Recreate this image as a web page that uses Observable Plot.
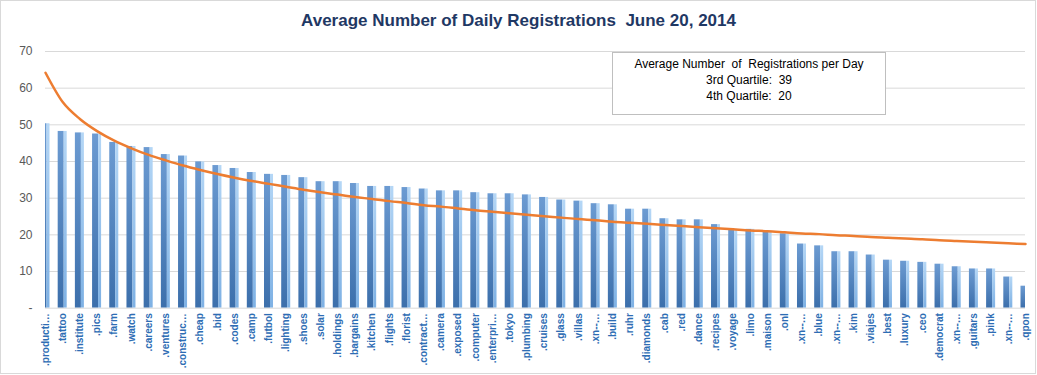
<!DOCTYPE html>
<html>
<head>
<meta charset="utf-8">
<script src="https://cdn.jsdelivr.net/npm/d3@7"></script>
<script src="https://cdn.jsdelivr.net/npm/@observablehq/plot@0.6"></script>
<style>
  html, body { margin: 0; padding: 0; background: #fff; }
  #wrap { position: relative; width: 1037px; height: 375px; overflow: hidden; background: #fff; }
  #border { position: absolute; left: 0; top: 0; width: 1036px; height: 374px; box-sizing: border-box; border: 1px solid #D9D9D9; pointer-events: none; }
  #title { position: absolute; left: 0; top: 9px; width: 1037px; text-align: center; font-family: "Liberation Sans", sans-serif; font-weight: bold; font-size: 17px; color: #1F3864; white-space: pre; line-height: 24px; }
  #chart { position: absolute; left: 0; top: 40px; }
  #note { position: absolute; left: 612px; top: 52px; width: 274px; height: 63px; box-sizing: border-box; border: 1px solid #BFBFBF; background: #fff; text-align: center; font-family: "Liberation Sans", sans-serif; font-size: 12px; color: #000; line-height: 15.8px; padding-top: 4px; white-space: pre; }
</style>
</head>
<body>
<div id="wrap">
  <div id="title">Average Number of Daily Registrations  June 20, 2014</div>
  <div id="chart"></div>
  <div id="note"></div>
  <div id="border"></div>
</div>
<script>
const labels = [".producti…", ".tattoo", ".institute", ".pics", ".farm", ".watch", ".careers", ".ventures", ".construc…", ".cheap",
  ".bid", ".codes", ".camp", ".futbol", ".lighting", ".shoes", ".solar", ".holdings", ".bargains", ".kitchen",
  ".flights", ".florist", ".contract…", ".camera", ".exposed", ".computer", ".enterpri…", ".tokyo", ".plumbing", ".cruises",
  ".glass", ".villas", ".xn--…", ".build", ".ruhr", ".diamonds", ".cab", ".red", ".dance", ".recipes",
  ".voyage", ".limo", ".maison", ".onl", ".xn--…", ".blue", ".xn--…", ".kim", ".viajes", ".best",
  ".luxury", ".ceo", ".democrat", ".xn--…", ".guitars", ".pink", ".xn--…", ".qpon"];

const registrations = [50.3, 48.2, 47.8, 47.5, 45.2, 44.1, 43.8, 41.9, 41.5, 39.9,
  38.9, 38.1, 37.0, 36.5, 36.2, 35.6, 34.5, 34.5, 34.0, 33.2,
  33.2, 32.9, 32.5, 32.0, 32.0, 31.5, 31.2, 31.2, 30.9, 30.2,
  29.5, 29.2, 28.5, 28.2, 27.0, 27.0, 24.4, 24.1, 24.1, 22.8,
  21.5, 21.5, 21.0, 20.3, 17.5, 17.0, 15.4, 15.4, 14.5, 13.1,
  12.8, 12.5, 12.0, 11.3, 10.7, 10.7, 8.5, 6.0];

const trend = [64.2, 56.2, 51.6, 48.3, 45.7, 43.6, 41.8, 40.3, 38.9, 37.7,
  36.6, 35.6, 34.7, 33.9, 33.1, 32.3, 31.6, 31.0, 30.3, 29.8,
  29.2, 28.7, 28.1, 27.7, 27.2, 26.7, 26.3, 25.9, 25.5, 25.1,
  24.7, 24.3, 24.0, 23.6, 23.3, 23.0, 22.7, 22.4, 22.1, 21.8,
  21.5, 21.2, 21.0, 20.7, 20.4, 20.2, 19.9, 19.7, 19.4, 19.2,
  19.0, 18.8, 18.5, 18.3, 18.1, 17.9, 17.7, 17.5];

const yTicks = [0, 10, 20, 30, 40, 50, 60, 70];
const noteLines = ["Average Number  of  Registrations per Day", "3rd Quartile:  39", "4th Quartile:  20"];

document.getElementById("note").textContent = noteLines.join("\n");

const data = labels.map((label, i) => ({i, label, value: registrations[i], trend: trend[i]}));

const chart = Plot.plot({
  width: 1037,
  height: 335,
  marginTop: 11,
  marginBottom: 67.3,
  marginLeft: 45,
  marginRight: 12,
  style: {fontFamily: "'Liberation Sans', sans-serif", background: "transparent"},
  x: {type: "linear", domain: [0, labels.length - 1], axis: null},
  y: {domain: [0, 70], axis: null},
  marks: [
    Plot.gridY(yTicks.filter(d => d > 0), {stroke: "#D9D9D9", strokeOpacity: 1}),
    Plot.ruleY([0], {stroke: "#D9D9D9"}),
    Plot.rectY(data, {x1: d => d.i - 0.262, x2: d => d.i + 0.087, y: "value", fill: "url(#barFront)", clip: true}),
    Plot.rectY(data, {x1: d => d.i + 0.087, x2: d => d.i + 0.262, y: "value", fill: "url(#barSide)", clip: true}),
    Plot.lineY(data, {x: "i", y: "trend", stroke: "#ED7D31", strokeWidth: 2.5, curve: "monotone-x"}),
    Plot.axisX(d3.range(labels.length), {
      tickFormat: i => labels[i], tickRotate: -90, tickSize: 0, tickPadding: 5,
      color: "#2E6DB4", fontSize: 10, fontWeight: "bold", label: null
    }),
    Plot.axisY(yTicks, {
      tickFormat: d => d === 0 ? "-" : d, tickSize: 0, tickPadding: 13,
      color: "#595959", fontSize: 12, label: null
    })
  ]
});

const svg = d3.select(chart);
const defs = svg.insert("defs", ":first-child");
const front = defs.append("linearGradient").attr("id", "barFront").attr("x1", 0).attr("y1", 0).attr("x2", 0).attr("y2", 1);
front.append("stop").attr("offset", "0%").attr("stop-color", "#6C9BD2");
front.append("stop").attr("offset", "100%").attr("stop-color", "#3C6FAB");
const side = defs.append("linearGradient").attr("id", "barSide").attr("x1", 0).attr("y1", 0).attr("x2", 0).attr("y2", 1);
side.append("stop").attr("offset", "0%").attr("stop-color", "#B5D7F6");
side.append("stop").attr("offset", "100%").attr("stop-color", "#7EB1E4");

document.getElementById("chart").appendChild(chart);
</script>
</body>
</html>
